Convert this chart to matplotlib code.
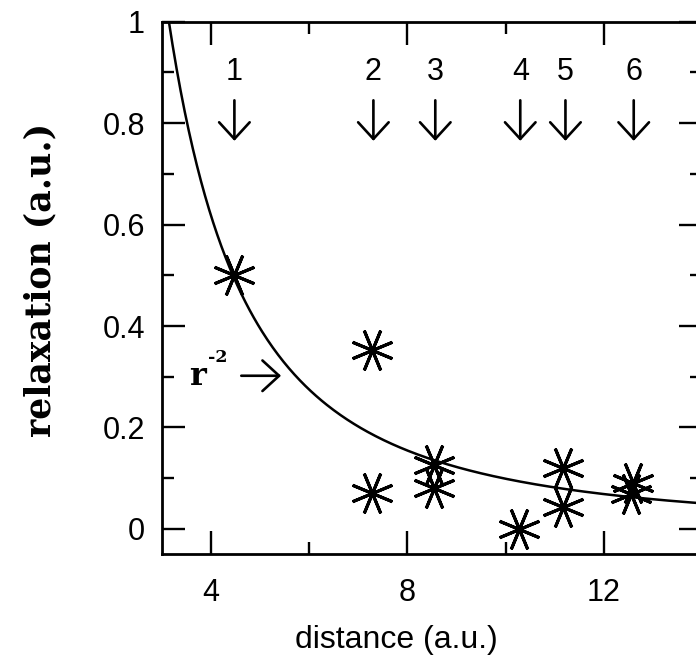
import matplotlib
matplotlib.use("Agg")
import matplotlib.pyplot as plt
import numpy as np

# ---- data ----
dist = [4.47, 7.29, 7.29, 8.55, 8.54, 10.27, 11.18, 11.18, 12.59, 12.56]
relax = [0.50, 0.352, 0.071, 0.126, 0.081, 0.0, 0.121, 0.044, 0.091, 0.068]

site_labels = ["1", "2", "3", "4", "5", "6"]
site_x = [4.48, 7.31, 8.57, 10.30, 11.22, 12.61]

fit_coef = 9.9  # r^-2 curve coefficient

x_major = [4, 8, 12]
x_minor = [6, 10]
y_major = [0, 0.2, 0.4, 0.6, 0.8, 1.0]
y_major_labels = ["0", "0.2", "0.4", "0.6", "0.8", "1"]
y_minor = [0.1, 0.3, 0.5, 0.7, 0.9]

W, H = 696, 665
fig = plt.figure(figsize=(W / 100, H / 100), dpi=100)
left, right, bottom, top = 161.7, 702.0, 554.3, 21.7
ax = fig.add_axes([left / W, (H - bottom) / H, (right - left) / W, (bottom - top) / H])

ax.set_xlim(3, 14)
ax.set_ylim(-0.05, 1.0)

# curve
xc = np.linspace(3.0, 14.0, 400)
ax.plot(xc, fit_coef / xc**2, color="black", lw=1.8, clip_on=True)

# stars
ax.plot(dist, relax, linestyle="none", marker=(8, 2, 22.5), markersize=31,
        markeredgewidth=2.2, color="black", clip_on=False)

num_font = "Liberation Sans"
arrow_style = "->,head_length=0.6,head_width=0.55"

# site arrows
for lab, sx in zip(site_labels, site_x):
    ax.text(sx, 0.90, lab, ha="center", va="center", fontsize=22,
            family=num_font, color="black")
    ax.annotate("", xy=(sx, 0.765), xytext=(sx, 0.845),
                arrowprops=dict(arrowstyle=arrow_style,
                                lw=1.9, color="black", mutation_scale=20,
                                shrinkA=0, shrinkB=0))

# r^-2 label
ax.text(3.74, 0.300, "r", ha="center", va="center", fontsize=23,
        family="DejaVu Serif", fontweight="bold")
ax.text(4.15, 0.337, "-2", ha="center", va="center", fontsize=12.5,
        family="DejaVu Serif", fontweight="bold")
ax.annotate("", xy=(5.43, 0.302), xytext=(4.62, 0.302),
            arrowprops=dict(arrowstyle=arrow_style,
                            lw=1.9, color="black", mutation_scale=20,
                            shrinkA=0, shrinkB=0))

# ticks
ax.set_xticks(x_major)
ax.set_xticks(x_minor, minor=True)
ax.set_yticks(y_major)
ax.set_yticklabels(y_major_labels)
ax.set_yticks(y_minor, minor=True)
ax.tick_params(which="both", direction="in", top=True, right=True,
               width=1.7, colors="black")
ax.tick_params(which="major", length=16.5)
ax.tick_params(which="minor", length=8.5)
ax.tick_params(axis="x", which="major", pad=17, labelsize=22)
ax.tick_params(axis="y", which="major", pad=12, labelsize=22)
for lab in ax.get_xticklabels() + ax.get_yticklabels():
    lab.set_family(num_font)

for sp in ax.spines.values():
    sp.set_linewidth(2.0)

fig.text(396 / W, 1 - 640 / H, "distance (a.u.)", ha="center", va="center",
         fontsize=23, family=num_font)
fig.text(40 / W, 1 - 280 / H, "relaxation (a.u.)", ha="center", va="center",
         rotation=90, fontsize=25, family="DejaVu Serif", fontweight="bold")

fig.savefig("out.png", dpi=100)
